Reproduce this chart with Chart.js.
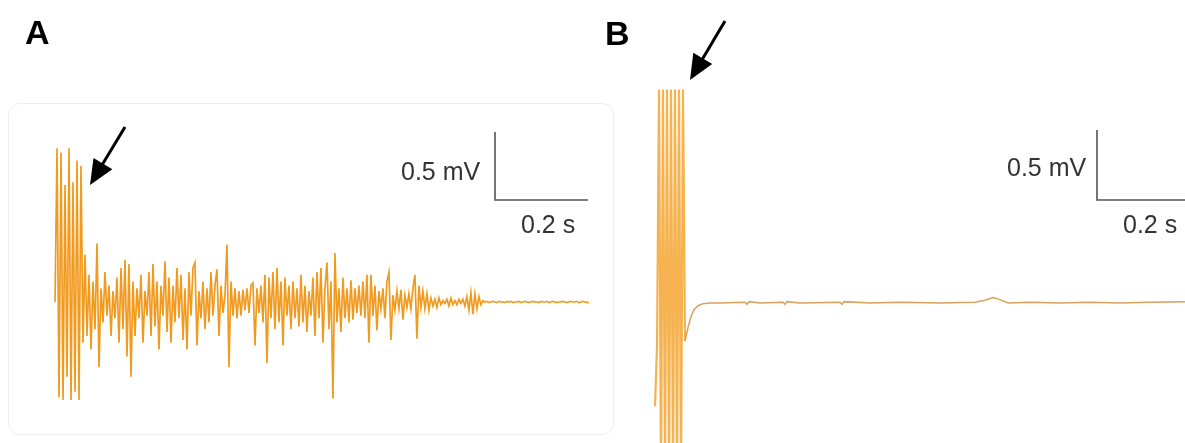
<!DOCTYPE html>
<html>
<head>
<meta charset="utf-8">
<script src="https://cdn.jsdelivr.net/npm/chart.js@4.4.1/dist/chart.umd.min.js"></script>
<style>
  body { margin: 0; width: 1185px; height: 443px; background: #fff; position: relative; overflow: hidden;
         font-family: "Liberation Sans", Arial, sans-serif; }
  canvas { position: absolute; top: 0; }
  #chartA { left: 0; }
  #chartB { left: 600px; }
  .frame { position: absolute; left: 8px; top: 103px; width: 604px; height: 330px;
           border: 1px solid #eeeeee; border-radius: 12px; }
  .lbl { position: absolute; line-height: 1; color: #333; font-size: 25px; white-space: nowrap; }
  .panel { position: absolute; line-height: 1; color: #000; font-size: 34px; font-weight: bold; }
</style>
</head>
<body>
<div class="frame"></div>
<canvas id="chartA" width="600" height="443"></canvas>
<canvas id="chartB" width="585" height="443"></canvas>
<div class="panel" style="left:25px; top:15px;">A</div>
<div class="panel" style="left:605px; top:16px;">B</div>
<div class="lbl" style="left:401px; top:159px;">0.5 mV</div>
<div class="lbl" style="left:521px; top:212px;">0.2 s</div>
<div class="lbl" style="left:1007px; top:155px;">0.5 mV</div>
<div class="lbl" style="left:1123px; top:212px;">0.2 s</div>
<script>
// Panel A: field potential, sampled every STEP_A ms (mV)
const STEP_A = 4.3;
const voltsA = [
  0.00, 1.13, -0.70, 1.10, -0.72, 0.86, -0.55, 1.13, -0.72, 0.88,
  -0.66, 1.04, -0.72, 1.00, -0.30, 0.35, -0.25, 0.20, -0.35, 0.15,
  -0.20, 0.43, -0.48, 0.10, -0.15, 0.22, -0.10, 0.12, -0.25, 0.08,
  -0.12, 0.18, -0.30, 0.25, -0.20, 0.31, -0.40, 0.28, -0.55, 0.15,
  -0.25, 0.10, -0.12, 0.20, -0.30, 0.08, -0.10, 0.22, -0.25, 0.28,
  -0.18, 0.15, -0.35, 0.12, -0.10, 0.30, -0.22, 0.18, -0.30, 0.12,
  -0.15, 0.25, -0.12, 0.20, -0.28, 0.10, -0.35, 0.22, -0.10, 0.25,
  0.29, -0.32, 0.08, -0.12, 0.15, -0.20, 0.10, -0.15, 0.22, -0.10,
  0.12, 0.24, -0.25, 0.12, -0.08, 0.05, 0.42, -0.48, 0.15, -0.10,
  0.10, -0.12, 0.08, -0.10, 0.09, -0.06, 0.10, -0.08, 0.12, 0.14,
  -0.32, 0.10, -0.08, 0.12, -0.15, 0.20, -0.45, 0.18, -0.12, 0.22,
  -0.20, 0.25, -0.15, 0.15, -0.32, 0.18, -0.10, 0.12, -0.20, 0.15,
  -0.12, 0.10, -0.18, 0.20, -0.15, 0.12, -0.22, 0.08, -0.10, 0.18,
  -0.25, 0.22, -0.12, 0.25, -0.30, 0.10, 0.29, -0.20, 0.15, -0.71,
  0.36, -0.15, 0.10, -0.22, 0.18, -0.12, 0.10, -0.15, 0.16, -0.13,
  0.10, -0.08, 0.12, -0.10, 0.15, -0.12, 0.20, -0.30, 0.20, -0.10,
  0.12, -0.21, 0.08, -0.05, 0.10, -0.12, 0.15, 0.22, -0.28, 0.05,
  -0.06, 0.08, -0.05, 0.09, -0.13, 0.05, -0.04, 0.06, -0.05, 0.10,
  0.20, -0.27, 0.12, -0.04, 0.08, -0.05, 0.06, -0.06, 0.03, -0.03,
  0.02, -0.04, 0.03, -0.02, 0.01, -0.01, 0.02, -0.03, 0.03, -0.02,
  0.01, -0.02, 0.02, -0.01, 0.02, -0.03, 0.04, -0.06, 0.07, -0.09,
  0.06, -0.05, 0.04, -0.02, 0.01, 0.00, 0.005, -0.005, 0.00, 0.005,
  0.00, -0.005, 0.005, 0.00, 0.00, -0.005, 0.005, 0.00, 0.005, -0.005,
  0.00, 0.00, 0.005, -0.005, 0.00, 0.005, 0.00, -0.005, 0.00, 0.005,
  0.00, 0.00, -0.005, 0.005, 0.00, 0.00, 0.005, -0.005, 0.00, 0.005,
  0.00, -0.005, 0.00, 0.00, 0.005, 0.00, -0.005, 0.00, 0.005, 0.00,
  0.00, 0.005, -0.005, 0.00, 0.005, 0.00, -0.005, 0.00
];

// Panel B: times (ms) and values (mV)
const timesB = [
  0, 4.3, 8.6, 12.9, 17.2, 21.5, 25.8, 30.1, 34.4, 38.7,
  43.0, 47.3, 51.6, 55.9, 60.2, 64.5, 71.0, 77.4, 83.9, 92.5,
  103.2, 118, 139.8, 193.5, 197.8, 202.1, 225.8, 275.3, 279.6, 283.9,
  311.8, 397.8, 402.1, 406.4, 462.4, 526.9, 612.9, 688.2, 709.7, 726.9,
  741.9, 759.1, 806.4, 871.0, 935.5, 1000, 1064.5, 1139.8
];
const voltsB = [
  -0.76, -0.32, 1.57, -1.30, 1.57, -1.30, 1.57, -1.30, 1.57, -1.30,
  1.57, -1.30, 1.57, -1.30, 1.57, -0.28, -0.18, -0.10, -0.05, -0.02,
  -0.005, 0.00, 0.00, 0.005, -0.01, 0.01, 0.00, 0.005, -0.01, 0.01,
  0.00, 0.005, -0.01, 0.01, 0.00, 0.005, 0.00, 0.005, 0.02, 0.04,
  0.025, 0.00, 0.005, 0.00, 0.005, 0.00, 0.005, 0.01
];

// scale bars: 0.5 mV and 200 ms
const barA = { t: 946.2, top: 1.25, bottom: 0.75, len: 200 };
const barB = { t: 950.5, top: 1.272, bottom: 0.757, len: 200 };

// arrows (tail -> tip) in data units
const arrowA = { from: [150.5, 1.287], to: [75.3, 0.86] };
const arrowB = { from: [150.5, 2.074], to: [75.3, 1.64] };

const ORANGE = '#F29A1E';

function barData(b) {
  return [{ x: b.t, y: b.top }, { x: b.t, y: b.bottom }, { x: b.t + b.len, y: b.bottom }];
}

const arrowPlugin = {
  id: 'arrow',
  afterDatasetsDraw(chart, args, opts) {
    const a = opts.arrow;
    if (!a) return;
    const xs = chart.scales.x, ys = chart.scales.y;
    const x1 = xs.getPixelForValue(a.from[0]), y1 = ys.getPixelForValue(a.from[1]);
    const x2 = xs.getPixelForValue(a.to[0]), y2 = ys.getPixelForValue(a.to[1]);
    const ang = Math.atan2(y2 - y1, x2 - x1);
    const hl = 25, hw = 11;
    const ctx = chart.ctx;
    ctx.save();
    ctx.strokeStyle = '#000';
    ctx.fillStyle = '#000';
    ctx.lineWidth = 3;
    ctx.beginPath();
    ctx.moveTo(x1, y1);
    ctx.lineTo(x2 - Math.cos(ang) * (hl - 2), y2 - Math.sin(ang) * (hl - 2));
    ctx.stroke();
    const bx = x2 - Math.cos(ang) * hl, by = y2 - Math.sin(ang) * hl;
    ctx.beginPath();
    ctx.moveTo(x2, y2);
    ctx.lineTo(bx + Math.sin(ang) * hw, by - Math.cos(ang) * hw);
    ctx.lineTo(bx - Math.sin(ang) * hw, by + Math.cos(ang) * hw);
    ctx.closePath();
    ctx.fill();
    ctx.restore();
  }
};

function baseOptions(xmax, ymin, ymax, arrow) {
  return {
    responsive: false,
    animation: false,
    layout: { padding: 0 },
    elements: { point: { radius: 0 }, line: { tension: 0 } },
    plugins: { legend: { display: false }, tooltip: { enabled: false }, arrow: { arrow: arrow } },
    scales: {
      x: { type: 'linear', display: false, min: -118.3, max: xmax },
      y: { display: false, min: ymin, max: ymax }
    }
  };
}

new Chart(document.getElementById('chartA'), {
  type: 'line',
  data: {
    datasets: [
      {
        data: voltsA.map((v, i) => ({ x: i * STEP_A, y: v })),
        borderColor: ORANGE,
        borderWidth: 1.7
      },
      {
        data: barData(barA),
        borderColor: '#555',
        borderWidth: 1.6
      }
    ]
  },
  options: baseOptions(1172.0, -1.0368, 2.2206, arrowA),
  plugins: [arrowPlugin]
});

new Chart(document.getElementById('chartB'), {
  type: 'line',
  data: {
    datasets: [
      {
        data: timesB.map((t, i) => ({ x: t, y: voltsB[i] })),
        borderColor: '#D8A15C',
        borderWidth: 1.5,
        segment: {
          borderColor: ctx => ctx.p0.parsed.x < 62 ? '#F5B24E' : '#D8A15C',
          borderWidth: ctx => ctx.p0.parsed.x < 62 ? 2.2 : 1.5
        }
      },
      {
        data: barData(barB),
        borderColor: '#555',
        borderWidth: 1.6
      }
    ]
  },
  options: baseOptions(1139.8, -1.0294, 2.2279, arrowB),
  plugins: [arrowPlugin]
});
</script>
</body>
</html>
